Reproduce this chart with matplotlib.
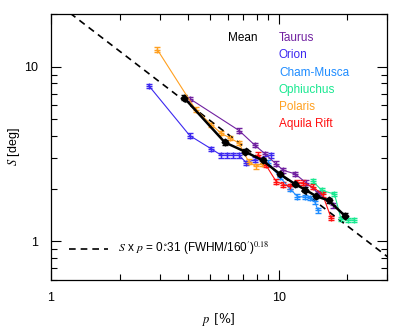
import numpy as np
import matplotlib.pyplot as plt

plt.rcParams['font.family'] = ['Liberation Sans', 'DejaVu Sans']
plt.rcParams['mathtext.fontset'] = 'stix'

# data: p [%] and S [deg]
mean_p = [3.84, 5.8, 7.1, 8.5, 10.1, 11.75, 13.1, 14.6, 16.6, 19.5]
mean_s = [6.63, 3.68, 3.26, 2.90, 2.43, 2.13, 1.97, 1.81, 1.71, 1.40]

taurus_p = [4.1, 6.7, 7.85, 8.75, 9.7, 10.5, 11.8, 13.2, 14.9, 17.3]
taurus_s = [6.5, 4.3, 3.55, 3.15, 2.78, 2.54, 2.43, 2.16, 1.89, 1.60]

orion_p = [2.69, 4.07, 5.07, 5.61, 5.96, 6.31, 6.70, 7.22, 7.85, 9.22]
orion_s = [7.76, 4.02, 3.37, 3.10, 3.10, 3.10, 3.10, 2.81, 2.93, 3.10]

cham_p = [8.95, 10.1, 11.2, 12.1, 13.0, 13.8, 14.4, 14.9]
cham_s = [2.82, 2.34, 2.00, 1.80, 1.79, 1.77, 1.69, 1.50]

oph_p = [14.1, 15.5, 17.6, 18.8, 20.1, 21.5]
oph_s = [2.21, 1.95, 1.86, 1.34, 1.32, 1.32]

polaris_p = [2.93, 4.32, 5.07, 5.57, 6.10, 6.68, 7.39, 7.93, 8.42]
polaris_s = [12.5, 5.66, 4.64, 4.16, 3.90, 3.65, 2.85, 2.68, 2.78]

aquila_p = [8.12, 8.77, 9.77, 10.5, 11.25, 12.0, 12.75, 14.1, 15.6, 17.0]
aquila_s = [3.13, 2.74, 2.19, 2.11, 2.06, 2.16, 2.16, 2.05, 1.85, 1.36]

names = ['Taurus', 'Orion', 'Cham-Musca', 'Ophiuchus', 'Polaris', 'Aquila Rift']
colors = ['#7020a0', '#3c28f0', '#1e8cff', '#18e890', '#ffa020', '#ff1010']
rel_err = 0.03

fit_const = 24.5  # S x p

fig = plt.figure(figsize=(4.15, 3.32), dpi=100)
ax = fig.add_axes([0.123, 0.157, 0.81, 0.801])

series = [(taurus_p, taurus_s), (orion_p, orion_s), (cham_p, cham_s),
          (oph_p, oph_s), (polaris_p, polaris_s), (aquila_p, aquila_s)]
for (p, s), c in zip(series, colors):
    s = np.array(s)
    ax.errorbar(p, s, yerr=rel_err * s, color=c, lw=0.8, marker='+', ms=5,
                mew=1.0, capsize=2, elinewidth=0.8, capthick=0.8)

ms = np.array(mean_s)
ax.errorbar(mean_p, ms, yerr=rel_err * ms, color='black', lw=1.8, marker='D',
            ms=3.5, capsize=2, elinewidth=0.8)

px = np.array([1.0, 30.0])
ax.plot(px, fit_const / px, 'k--', lw=1.2, dashes=(4, 3))

ax.set_xscale('log')
ax.set_yscale('log')
ax.set_xlim(1, 30)
ax.set_ylim(0.6, 20)
ax.set_xticks([1, 10])
ax.set_xticklabels(['1', '10'])
ax.set_yticks([1, 10])
ax.set_yticklabels(['1', '10'])
ax.tick_params(which='both', direction='in', top=True, right=True, labelsize=9)
ax.tick_params(which='major', length=7, width=0.8, pad=9)
ax.tick_params(which='minor', length=4, width=0.8)
ax.yaxis.set_minor_formatter(plt.NullFormatter())
ax.xaxis.set_minor_formatter(plt.NullFormatter())
ax.set_xlabel(r'$p$ [%]', fontsize=9, family='serif', labelpad=5)
ax.set_ylabel(r'$S$ [deg]', fontsize=9, labelpad=2)
for sp in ax.spines.values():
    sp.set_linewidth(0.9)

# labels of the series
ax.text(0.527, 0.897, 'Mean', transform=ax.transAxes, fontsize=8.5, color='black')
for i, (n, c) in enumerate(zip(names, colors)):
    ax.text(0.678, 0.897 - i * 0.0645, n, transform=ax.transAxes, fontsize=8.5, color=c)

# fit legend
ax.plot([0.054, 0.17], [0.117, 0.117], 'k--', lw=1.2, dashes=(4, 3), transform=ax.transAxes)
ax.text(0.2, 0.117, r'$S$ x $p$ = 0$\overset{\circ}{.}$31 (FWHM/160$^{\prime}$)$^{0.18}$',
        transform=ax.transAxes, fontsize=8.5, va='center')

fig.savefig('out.png', dpi=100)
